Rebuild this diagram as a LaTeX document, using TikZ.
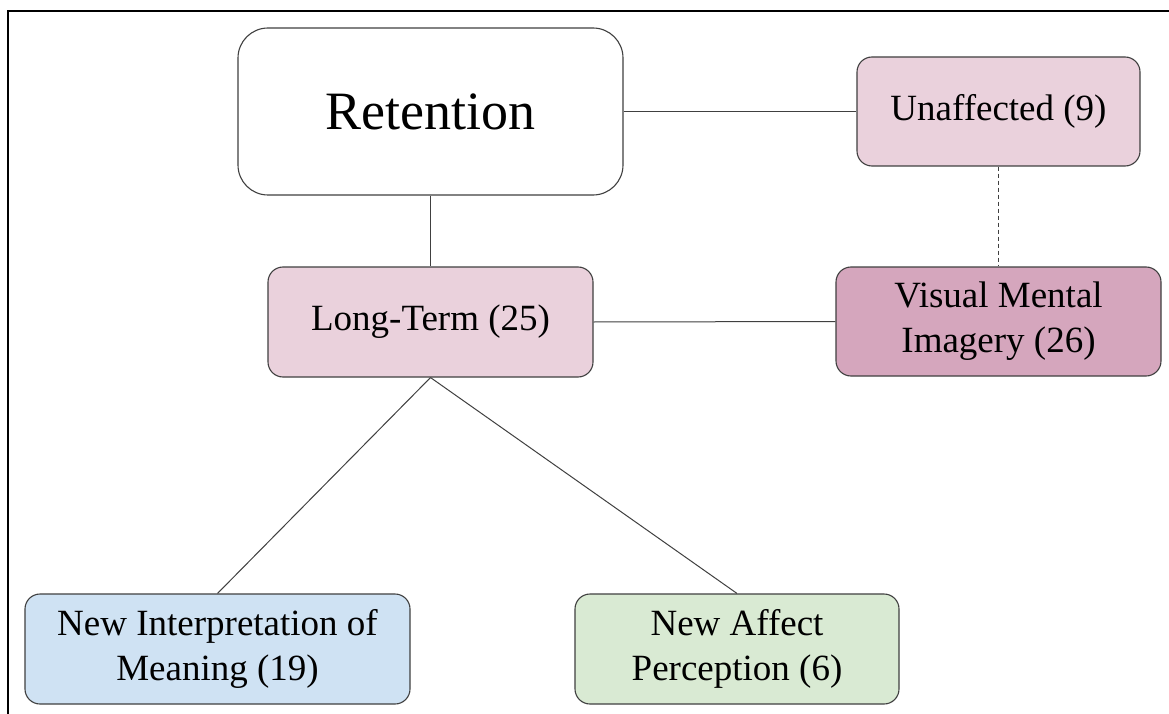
\documentclass[tikz,border=0pt]{standalone}
\usepackage{fontspec}
\setmainfont{Liberation Serif}
\begin{document}
\begin{tikzpicture}[x=1pt,y=-1pt,
  box/.style={draw=black!75, line width=1.1pt, rounded corners=15pt, align=center, inner sep=0pt, font=\fontsize{37}{45}\selectfont},
  link/.style={draw=black!75, line width=1pt}]
\definecolor{pinkA}{HTML}{EAD1DC}
\definecolor{pinkB}{HTML}{D5A6BD}
\definecolor{blueA}{HTML}{CFE2F3}
\definecolor{greenA}{HTML}{D9EAD3}
\useasboundingbox (0,0) rectangle (1169,714);
\fill[white] (0,0) rectangle (1169,714);
\draw[line width=2.2pt, line cap=rect] (8,714) -- (8,11) -- (1169,11);
\node[box, fill=white, rounded corners=30pt, minimum width=385pt, minimum height=167pt, font=\fontsize{54}{60}\selectfont] (ret) at (430.5,111.5) {Retention};
\node[box, fill=pinkA, minimum width=283pt, minimum height=109pt] (una) at (998.5,111.5) {Unaffected (9)};
\node[box, fill=pinkA, minimum width=325pt, minimum height=110pt] (lt) at (430.5,322) {Long-Term (25)};
\node[box, fill=pinkB, minimum width=325pt, minimum height=109pt] (vmi) at (998.5,321.5) {Visual Mental\\Imagery (26)};
\node[box, fill=blueA, minimum width=385pt, minimum height=110pt] (nim) at (217.5,649) {New Interpretation of\\Meaning (19)};
\node[box, fill=greenA, minimum width=324pt, minimum height=110pt] (nap) at (737,649) {New Affect\\Perception (6)};
\draw[link] (ret.east) -- (una.west);
\draw[link] (ret.south) -- (lt.north);
\draw[link, dashed, dash pattern=on 4pt off 3pt] (una.south) -- (vmi.north);
\draw[link] (lt.east) -- (vmi.west);
\draw[link] (lt.south) -- (nim.north);
\draw[link] (lt.south) -- (nap.north);
\end{tikzpicture}
\end{document}
